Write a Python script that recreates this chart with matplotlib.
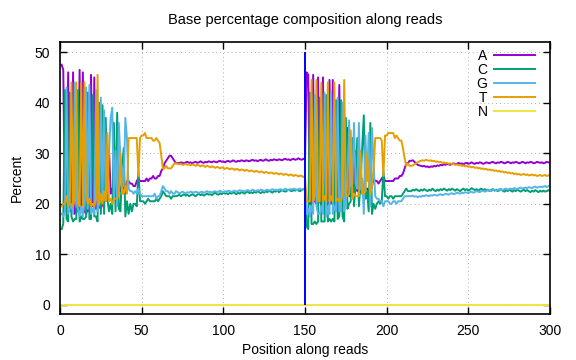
import matplotlib
matplotlib.use('Agg')
import matplotlib.pyplot as plt
import numpy as np

plt.rcParams['font.family'] = ['Liberation Sans', 'DejaVu Sans']

# positions along the (paired) reads: read 1 = 1..150, read 2 = 151..300
positions = list(range(1, 301))
read_split = 150

a_pct = [
    # read 1
    47.5, 46.5, 19.0, 18.5, 46.0, 19.0, 18.5, 46.0, 18.0, 19.0,
    18.5, 46.5, 19.0, 46.0, 18.5, 18.0, 19.0, 18.5, 45.5, 19.5,
    45.0, 19.0, 19.5, 19.5, 19.0, 20.0, 21.0, 22.0, 22.0, 31.0,
    22.0, 23.0, 22.0, 30.0, 21.5, 23.0, 22.5, 24.0, 23.5, 22.0,
    24.5, 24.5, 24.0, 24.0, 23.5, 23.5, 24.5, 25.0, 24.5, 24.5,
    24.5, 24.5, 25.0, 24.5, 25.0, 25.0, 25.5, 25.0, 25.0, 25.5,
    25.5, 26.5, 27.0, 28.0, 28.5, 29.0, 29.5, 29.5, 29.0, 28.5,
    28.0,
    28.1, 28.0, 28.2, 28.1, 28.0, 28.2, 28.3, 28.1, 28.2, 28.0,
    28.2, 28.3, 28.1, 28.2, 28.4, 28.2, 28.1, 28.3, 28.2, 28.4,
    28.3, 28.2, 28.4, 28.3, 28.2, 28.4, 28.5, 28.3, 28.4, 28.2,
    28.4, 28.5, 28.3, 28.4, 28.6, 28.4, 28.3, 28.5, 28.4, 28.6,
    28.5, 28.4, 28.6, 28.5, 28.4, 28.6, 28.7, 28.5, 28.6, 28.4,
    28.6, 28.7, 28.5, 28.6, 28.8, 28.6, 28.5, 28.7, 28.6, 28.8,
    28.7, 28.6, 28.8, 28.7, 28.6, 28.8, 28.9, 28.7, 28.8, 28.6,
    28.8, 28.9, 28.7, 28.8, 29.0, 28.8, 28.7, 28.9, 28.8,
    # read 2
    46.0, 45.5, 20.0, 20.0, 45.5, 20.5, 20.0, 45.0, 20.5, 20.0,
    45.0, 20.0, 20.5, 20.0, 44.5, 20.0, 44.5, 20.0, 20.5, 21.0,
    43.5, 20.5, 20.5, 20.5, 21.0, 35.0, 21.5, 21.5, 22.0, 22.5,
    30.5, 22.5, 23.0, 22.5, 22.0, 22.5, 23.0, 23.0, 22.5, 22.5,
    23.5, 25.0, 24.5, 24.5, 24.0, 24.5, 25.0, 25.5, 24.5, 24.5,
    24.5, 24.5, 24.5, 24.5, 25.0, 25.0, 25.0, 25.5, 25.5, 26.0,
    27.0, 28.0, 28.0, 28.5, 28.5,
    28.6, 28.3, 28.0, 27.7, 27.6, 27.5, 27.4, 27.5, 27.3, 27.4,
    27.2, 27.4, 27.3, 27.5, 27.4, 27.6, 27.5, 27.7, 27.6, 27.8,
    27.7, 27.9, 27.8, 27.7, 27.9, 28.0, 27.8, 27.9, 28.1, 27.9,
    28.0, 27.8, 28.0, 28.1, 27.9, 28.0, 28.2, 28.0, 27.9, 28.1,
    28.0, 28.2, 28.1, 27.9, 28.0, 28.2, 28.1, 28.0, 28.2, 28.3,
    28.1, 28.0, 28.2, 28.1, 28.3, 28.2, 28.0, 28.1, 28.3, 28.2,
    28.0, 28.2, 28.1, 28.3, 28.2, 28.0, 28.1, 28.3, 28.2, 28.0,
    28.2, 28.1, 28.3, 28.2, 28.0, 28.1, 28.3, 28.2, 28.1, 28.2,
    28.0, 28.1, 28.3, 28.2, 28.1,
]

c_pct = [
    # read 1
    15.0, 16.0, 42.5, 17.0, 16.5, 42.0, 17.5, 16.5, 17.0, 17.0,
    42.5, 16.5, 17.5, 17.0, 17.0, 17.5, 42.0, 17.0, 17.0, 41.5,
    17.5, 17.5, 16.5, 40.0, 18.0, 39.5, 18.0, 37.0, 21.0, 18.5,
    20.0, 18.0, 36.0, 18.5, 38.0, 19.0, 18.5, 27.0, 31.0, 17.5,
    20.5, 18.0, 20.0, 18.5, 20.0, 20.0, 19.5, 26.5, 20.5, 20.5,
    20.5, 20.0, 20.5, 21.0, 20.5, 20.5, 20.5, 20.5, 21.0, 20.5,
    21.0, 21.5, 22.5, 22.0, 21.5, 21.5, 21.5, 21.0, 21.5, 21.5,
    21.5,
    21.6, 21.8, 21.5, 21.7, 21.9, 21.6, 21.8, 21.5, 21.7, 21.9,
    21.7, 21.5, 21.8, 22.0, 21.7, 21.9, 21.6, 21.8, 22.0, 21.8,
    21.9, 21.7, 22.0, 22.2, 21.9, 21.8, 22.1, 21.9, 22.2, 22.0,
    22.1, 21.9, 22.2, 22.0, 22.3, 22.1, 21.9, 22.2, 22.0, 22.3,
    22.2, 22.0, 22.3, 22.4, 22.1, 22.3, 22.1, 22.4, 22.2, 22.5,
    22.3, 22.1, 22.4, 22.2, 22.5, 22.3, 22.6, 22.4, 22.2, 22.5,
    22.4, 22.6, 22.3, 22.5, 22.7, 22.5, 22.4, 22.6, 22.8, 22.6,
    22.5, 22.7, 22.6, 22.8, 22.6, 22.5, 22.7, 22.9, 22.8,
    # read 2
    15.5, 15.0, 42.0, 16.0, 16.0, 16.5, 16.0, 16.5, 41.0, 16.5,
    16.5, 16.5, 41.5, 16.5, 17.0, 16.5, 17.0, 16.5, 40.5, 17.0,
    17.5, 40.5, 17.5, 16.5, 37.0, 19.0, 20.0, 20.5, 33.0, 19.5,
    24.0, 33.0, 19.5, 24.0, 31.0, 37.5, 21.0, 22.5, 18.5, 36.0,
    18.0, 20.0, 19.0, 20.0, 20.5, 20.0, 20.5, 26.5, 21.5, 21.5,
    21.0, 21.5, 21.5, 21.0, 21.5, 21.5, 21.5, 21.5, 21.5, 22.0,
    22.5, 23.0, 22.5, 22.5, 22.5,
    22.8, 22.6, 22.9, 22.7, 22.5, 22.8, 22.6, 22.9, 22.7, 22.5,
    22.8, 22.6, 23.0, 22.7, 22.5, 22.8, 22.6, 22.9, 22.7, 23.0,
    22.8, 22.6, 22.9, 22.7, 23.0, 22.8, 22.6, 22.9, 22.7, 22.5,
    22.8, 23.0, 22.7, 22.9, 22.6, 22.8, 23.1, 22.9, 22.7, 22.9,
    22.6, 22.8, 23.0, 22.7, 22.9, 22.6, 22.8, 22.5, 22.7, 22.9,
    22.6, 22.8, 22.5, 22.7, 22.9, 22.6, 22.4, 22.7, 22.5, 22.8,
    22.6, 22.4, 22.7, 22.5, 22.8, 22.6, 22.4, 22.6, 22.8, 22.5,
    22.7, 22.5, 22.3, 22.6, 22.4, 22.7, 22.5, 22.3, 22.6, 22.4,
    22.6, 22.4, 22.5, 22.7, 22.5,
]

g_pct = [
    # read 1
    18.0, 17.5, 18.5, 43.0, 18.0, 19.0, 20.0, 18.0, 44.0, 20.0,
    19.0, 17.5, 19.5, 17.5, 20.5, 43.0, 19.0, 43.5, 18.0, 19.0,
    18.0, 42.5, 18.5, 20.5, 41.0, 20.5, 38.5, 20.5, 23.0, 30.0,
    37.0, 39.0, 21.0, 30.5, 19.5, 36.0, 29.0, 27.0, 23.5, 37.0,
    33.0, 23.0, 22.5, 22.5, 22.0, 22.5, 22.0, 23.0, 22.0, 21.5,
    21.5, 21.5, 21.5, 21.5, 21.5, 21.5, 21.5, 22.0, 21.0, 21.5,
    21.5, 22.5, 23.5, 23.0, 22.5, 22.5, 22.0, 22.5, 22.0, 22.0,
    22.5,
    22.3, 22.1, 22.2, 22.4, 22.2, 22.1, 22.3, 22.2, 22.4, 22.3,
    22.2, 22.4, 22.3, 22.1, 22.3, 22.4, 22.2, 22.3, 22.5, 22.3,
    22.4, 22.2, 22.4, 22.5, 22.3, 22.4, 22.6, 22.4, 22.3, 22.5,
    22.4, 22.6, 22.5, 22.3, 22.5, 22.6, 22.4, 22.5, 22.7, 22.5,
    22.6, 22.4, 22.6, 22.7, 22.5, 22.6, 22.8, 22.6, 22.5, 22.7,
    22.6, 22.8, 22.7, 22.5, 22.7, 22.8, 22.6, 22.7, 22.9, 22.7,
    22.8, 22.6, 22.8, 22.9, 22.7, 22.8, 23.0, 22.8, 22.7, 22.9,
    22.8, 23.0, 22.9, 22.7, 22.9, 23.0, 22.8, 22.9, 23.1,
    # read 2
    18.0, 19.0, 17.5, 19.5, 18.0, 41.5, 19.5, 18.0, 18.0, 19.5,
    18.0, 42.0, 17.5, 19.5, 18.0, 42.0, 18.0, 19.5, 18.5, 41.0,
    18.5, 18.5, 40.0, 18.5, 20.5, 24.5, 36.5, 23.5, 24.0, 36.0,
    24.0, 23.0, 36.0, 23.0, 25.0, 18.0, 33.5, 24.5, 34.0, 19.5,
    35.0, 28.0, 21.5, 21.0, 21.0, 20.5, 20.5, 19.5, 20.5, 20.5,
    20.5, 20.0, 20.0, 20.5, 20.5, 20.0, 20.5, 20.5, 20.5, 21.0,
    21.5, 21.5, 21.5, 21.5, 21.5,
    21.6, 21.4, 21.5, 21.3, 21.5, 21.4, 21.6, 21.5, 21.7, 21.6,
    21.5, 21.7, 21.6, 21.8, 21.7, 21.6, 21.8, 21.9, 21.7, 21.8,
    22.0, 21.9, 21.8, 22.0, 22.1, 21.9, 22.0, 22.2, 22.1, 22.0,
    22.2, 22.1, 22.3, 22.2, 22.1, 22.3, 22.4, 22.2, 22.3, 22.5,
    22.4, 22.3, 22.5, 22.6, 22.4, 22.5, 22.7, 22.6, 22.5, 22.7,
    22.8, 22.6, 22.7, 22.9, 22.8, 22.7, 22.9, 23.0, 22.8, 22.9,
    23.0, 22.9, 23.1, 23.0, 22.9, 23.1, 23.2, 23.0, 23.1, 23.2,
    23.1, 23.3, 23.2, 23.1, 23.3, 23.4, 23.2, 23.3, 23.4, 23.3,
    23.4, 23.5, 23.3, 23.5, 23.6,
]

t_pct = [
    # read 1
    19.5, 20.0, 20.0, 21.5, 19.5, 20.0, 44.0, 19.5, 21.0, 44.0,
    20.0, 19.5, 44.0, 19.5, 44.0, 21.5, 20.0, 21.0, 19.5, 20.0,
    19.5, 21.0, 45.5, 20.0, 22.0, 20.0, 22.5, 20.5, 34.0, 20.5,
    21.0, 20.0, 21.0, 21.0, 21.0, 22.0, 30.0, 22.0, 22.0, 23.5,
    22.0, 33.0, 33.0, 33.0, 33.0, 33.0, 33.0, 25.5, 33.0, 33.5,
    33.5, 34.0, 33.0, 33.0, 33.0, 33.0, 32.5, 32.5, 33.0, 32.5,
    32.0, 29.5, 27.0, 27.0, 27.5, 27.0, 27.0, 27.0, 27.5, 28.0,
    28.0,
    27.9, 27.8, 27.9, 27.7, 27.8, 27.9, 27.7, 27.8, 27.6, 27.8,
    27.7, 27.5, 27.7, 27.6, 27.4, 27.6, 27.5, 27.3, 27.5, 27.4,
    27.2, 27.4, 27.3, 27.1, 27.3, 27.2, 27.0, 27.2, 27.1, 26.9,
    27.1, 27.0, 26.8, 27.0, 26.9, 26.7, 26.9, 26.8, 26.6, 26.8,
    26.7, 26.5, 26.7, 26.6, 26.4, 26.6, 26.5, 26.3, 26.5, 26.4,
    26.2, 26.4, 26.3, 26.1, 26.3, 26.2, 26.0, 26.2, 26.1, 25.9,
    26.1, 26.0, 25.8, 26.0, 25.9, 25.7, 25.9, 25.8, 25.6, 25.8,
    25.7, 25.5, 25.7, 25.6, 25.4, 25.6, 25.5, 25.3, 25.5,
    # read 2
    20.5, 20.5, 20.5, 44.5, 20.5, 21.5, 44.5, 20.5, 20.5, 44.0,
    20.5, 21.5, 20.5, 44.0, 20.5, 21.5, 20.5, 44.0, 20.5, 21.0,
    20.5, 20.5, 22.0, 44.5, 21.5, 21.5, 22.0, 34.5, 21.0, 22.0,
    21.5, 21.5, 21.5, 30.5, 22.0, 22.0, 22.5, 30.0, 25.0, 22.0,
    23.5, 27.0, 33.0, 33.0, 33.0, 33.0, 32.5, 25.5, 33.5, 33.5,
    34.0, 34.0, 34.0, 34.0, 33.0, 33.5, 33.0, 32.5, 32.5, 31.0,
    29.0, 27.5, 28.0, 27.5, 27.5,
    27.6, 27.8, 28.0, 28.2, 28.4, 28.5, 28.6, 28.5, 28.7, 28.6,
    28.5, 28.6, 28.4, 28.5, 28.3, 28.4, 28.2, 28.3, 28.1, 28.2,
    28.0, 28.1, 27.9, 28.0, 27.8, 27.9, 27.7, 27.8, 27.6, 27.7,
    27.5, 27.6, 27.4, 27.5, 27.3, 27.4, 27.2, 27.3, 27.1, 27.2,
    27.0, 27.1, 26.9, 27.0, 26.8, 26.9, 26.7, 26.8, 26.6, 26.7,
    26.5, 26.6, 26.4, 26.5, 26.3, 26.4, 26.2, 26.3, 26.1, 26.2,
    26.0, 26.1, 25.9, 26.0, 25.8, 25.9, 25.7, 25.8, 25.9, 25.7,
    25.8, 25.6, 25.7, 25.8, 25.6, 25.7, 25.5, 25.6, 25.7, 25.5,
    25.6, 25.7, 25.5, 25.6, 25.7,
]

n_pct = [0.0] * len(positions)  # no N calls anywhere

series = [('A', a_pct, '#9400d3'), ('C', c_pct, '#009e73'),
          ('G', g_pct, '#56b4e9'), ('T', t_pct, '#e69f00'),
          ('N', n_pct, '#f0e442')]

for name, vals, _ in series:
    assert len(vals) == len(positions), (name, len(vals))

fig = plt.figure(figsize=(5.76, 3.6), dpi=100)
ax = fig.add_axes([60 / 576, 46 / 360, 490 / 576, 272 / 360])

for name, vals, col in series:
    ax.plot(positions, vals, color=col, lw=1.4, label=name)

# boundary between read 1 and read 2
ax.vlines(read_split, 0, 50, color='#0000ff', lw=1.4, zorder=5)

ax.set_xlim(0, 300)
ax.set_ylim(-1.8, 52)
ax.set_xticks(np.arange(0, 301, 50))
ax.set_yticks(np.arange(0, 51, 10))
ax.grid(True, color='#b0b0b0', linestyle=(0, (1, 3)), lw=0.7)
ax.set_axisbelow(True)
ax.tick_params(direction='in', top=True, right=True, length=5, width=1,
               labelsize=10, pad=7)
for sp in ax.spines.values():
    sp.set_linewidth(1.2)

ax.set_title('Base percentage composition along reads', fontsize=10.5, pad=13)
ax.set_xlabel('Position along reads', fontsize=10, labelpad=4)
ax.set_ylabel('Percent', fontsize=10, labelpad=8)

ax.legend(loc='upper right', bbox_to_anchor=(0.983, 1.0), frameon=False,
          markerfirst=False, handlelength=2.9, handletextpad=0.5,
          labelspacing=0.0, borderpad=0, fontsize=10)

fig.savefig('out.png', dpi=100)
